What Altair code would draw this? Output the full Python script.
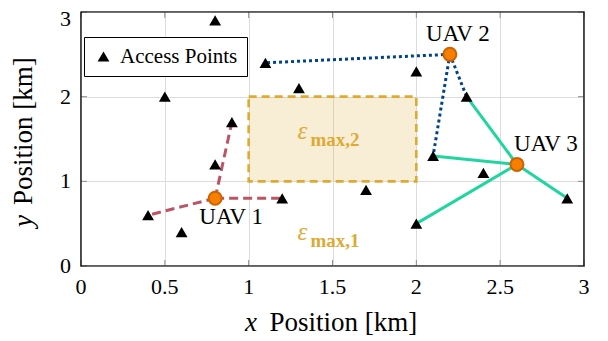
import altair as alt
import pandas as pd

# ---------------- data ----------------
ap_x = [0.8, 1.1, 0.5, 1.3, 0.9, 0.8, 0.4, 0.6, 1.2, 1.7, 2.0, 2.3, 2.1, 2.4, 2.0, 2.9]
ap_y = [2.9, 2.4, 2.0, 2.1, 1.7, 1.2, 0.6, 0.4, 0.8, 0.9, 2.3, 2.0, 1.3, 1.1, 0.5, 0.8]

uav_names = ["UAV 1", "UAV 2", "UAV 3"]
uav_x = [0.8, 2.2, 2.6]
uav_y = [0.8, 2.5, 1.2]

# indices (into ap_x / ap_y) of access points linked to each UAV
links_uav1 = [6, 4, 8]
links_uav2 = [1, 12, 11]
links_uav3 = [11, 12, 14, 15]

region_x = [1.0, 2.0]
region_y = [1.0, 2.0]

eps_names = ["max,2", "max,1"]
eps_x = [1.5, 1.5]
eps_y = [1.5, 0.31]

x_ticks = [0, 0.5, 1, 1.5, 2, 2.5, 3]
y_ticks = [0, 1, 2, 3]

# ---------------- tables ----------------
ap_df = pd.DataFrame({"x": ap_x, "y": ap_y, "kind": ["Access Points"] * len(ap_x)})
uav_df = pd.DataFrame({"name": uav_names, "x": uav_x, "y": uav_y})


def links_df(u, idx):
    return pd.DataFrame({
        "x": [uav_x[u]] * len(idx), "y": [uav_y[u]] * len(idx),
        "x2": [ap_x[i] for i in idx], "y2": [ap_y[i] for i in idx],
    })


region_df = pd.DataFrame({"x": [region_x[0]], "x2": [region_x[1]],
                          "y": [region_y[0]], "y2": [region_y[1]]})
eps_df = pd.DataFrame({"name": eps_names, "x": eps_x, "y": eps_y})
xt_df = pd.DataFrame({"x": x_ticks})
yt_df = pd.DataFrame({"y": y_ticks})

W, H = 503, 254
FONT = "Liberation Serif"
GOLD = "#DDAA33"

xs = alt.Scale(domain=[0, 3], nice=False, zero=False)
ys = alt.Scale(domain=[0, 3], nice=False, zero=False)

x_axis = alt.Axis(values=x_ticks, title=None, labels=False, ticks=False, tickSize=0, domain=False,
                  grid=True, gridColor="#dcdcdc", gridWidth=1)
y_axis = alt.Axis(values=y_ticks, title=None, labels=False, ticks=False, tickSize=0, domain=False,
                  grid=True, gridColor="#dcdcdc", gridWidth=1)


def X(f="x"):
    return alt.X(f, type="quantitative", scale=xs, axis=x_axis)


def Y(f="y"):
    return alt.Y(f, type="quantitative", scale=ys, axis=y_axis)


# region rectangle
region = alt.Chart(region_df).mark_rect(
    fill=GOLD, fillOpacity=0.2, stroke=GOLD, strokeWidth=2.6, strokeDash=[8, 5]
).encode(x=X(), x2="x2", y=Y(), y2="y2")

# inward ticks
tick_style = dict(color="#8c8c8c", strokeWidth=1)
tb = alt.Chart(xt_df).mark_rule(**tick_style).encode(x=X(), y=alt.value(H), y2=alt.value(H - 6))
tt = alt.Chart(xt_df).mark_rule(**tick_style).encode(x=X(), y=alt.value(0), y2=alt.value(6))
tl = alt.Chart(yt_df).mark_rule(**tick_style).encode(y=Y(), x=alt.value(0), x2=alt.value(6))
tr = alt.Chart(yt_df).mark_rule(**tick_style).encode(y=Y(), x=alt.value(W), x2=alt.value(W - 6))

# tick labels (serif, through the scales)
xlab = alt.Chart(xt_df).mark_text(
    font=FONT, fontSize=22, color="black", align="center", baseline="alphabetic"
).encode(x=X(), y=alt.value(H + 28), text=alt.Text("x:Q", format="~g"))
ylab = alt.Chart(yt_df).transform_filter(alt.datum.y < 3).mark_text(
    font=FONT, fontSize=22, color="black", align="right", baseline="middle"
).encode(y=Y(), x=alt.value(-10), text=alt.Text("y:Q", format="~g"))
ylab_top = alt.Chart(yt_df).transform_filter(alt.datum.y >= 3).mark_text(
    font=FONT, fontSize=22, color="black", align="right", baseline="middle", dy=7
).encode(y=Y(), x=alt.value(-10), text=alt.Text("y:Q", format="~g"))

# frame
frame = alt.Chart(pd.DataFrame({"f": [0]})).mark_rect(
    fillOpacity=0, stroke="black", strokeWidth=1.2
).encode(x=alt.value(0), x2=alt.value(W), y=alt.value(0), y2=alt.value(H))

# links
l1 = alt.Chart(links_df(0, links_uav1)).mark_rule(
    color="#BB5566", strokeWidth=3, strokeDash=[9, 5]
).encode(x=X(), y=Y(), x2="x2", y2="y2")
l2 = alt.Chart(links_df(1, links_uav2)).mark_rule(
    color="#004488", strokeWidth=3, strokeDash=[3, 3]
).encode(x=X(), y=Y(), x2="x2", y2="y2")
l3 = alt.Chart(links_df(2, links_uav3)).mark_rule(
    color="#20D5A0", strokeWidth=3
).encode(x=X(), y=Y(), x2="x2", y2="y2")

# access points with legend
aps = alt.Chart(ap_df).mark_point(filled=True, color="black", size=140, opacity=1).encode(
    x=X(), y=Y(),
    shape=alt.Shape("kind:N", scale=alt.Scale(range=["triangle-up"]), legend=alt.Legend(
        title=None, orient="none", legendX=3, legendY=25, padding=9,
        strokeColor="black", fillColor="white", cornerRadius=0,
        labelFont=FONT, labelFontSize=21, labelColor="black", labelOffset=6,
        symbolFillColor="black", symbolStrokeColor="black", symbolSize=140, symbolStrokeWidth=0,
    )),
)

# UAVs
uavs = alt.Chart(uav_df).mark_point(
    filled=True, fill="#F77F00", stroke="#CC6200", strokeWidth=2, size=170, opacity=1, shape="circle"
).encode(x=X(), y=Y())

uav_offsets = {"UAV 1": (16, 26), "UAV 2": (8, -13), "UAV 3": (29, -13)}
uav_labels = []
for nm in uav_names:
    dx, dy = uav_offsets[nm]
    uav_labels.append(
        alt.Chart(uav_df).transform_filter(alt.datum.name == nm).mark_text(
            font=FONT, fontSize=23, color="black", align="center", baseline="alphabetic", dx=dx, dy=dy
        ).encode(x=X(), y=Y(), text="name:N")
    )

# epsilon labels
eps_sym = alt.Chart(eps_df).mark_text(
    font=FONT, fontSize=25, fontStyle="italic", color=GOLD, align="left", baseline="alphabetic", dx=-35, dy=0
).encode(x=X(), y=Y(), text=alt.value("ε"))
eps_sub = alt.Chart(eps_df).mark_text(
    font=FONT, fontSize=19, fontWeight="bold", color=GOLD, align="left", baseline="alphabetic", dx=-22, dy=7
).encode(x=X(), y=Y(), text="name:N")

# axis titles (italic variable + upright words)
xt1 = alt.Chart(pd.DataFrame({"t": ["x"]})).mark_text(
    font=FONT, fontSize=27, fontStyle="italic", color="black", align="left", baseline="alphabetic"
).encode(x=alt.value(164), y=alt.value(319), text="t:N")
xt2 = alt.Chart(pd.DataFrame({"t": ["Position [km]"]})).mark_text(
    font=FONT, fontSize=27, color="black", align="left", baseline="alphabetic"
).encode(x=alt.value(188.5), y=alt.value(319), text="t:N")
yt1 = alt.Chart(pd.DataFrame({"t": ["y"]})).mark_text(
    font=FONT, fontSize=27, fontStyle="italic", color="black", align="left", baseline="alphabetic", angle=270
).encode(x=alt.value(-49), y=alt.value(215), text="t:N")
yt2 = alt.Chart(pd.DataFrame({"t": ["Position [km]"]})).mark_text(
    font=FONT, fontSize=27, color="black", align="left", baseline="alphabetic", angle=270
).encode(x=alt.value(-49), y=alt.value(193), text="t:N")

chart = alt.layer(
    region, tb, tt, tl, tr, xlab, ylab, ylab_top, frame, l1, l2, l3, aps, uavs, *uav_labels,
    eps_sym, eps_sub, xt1, xt2, yt1, yt2
).properties(
    width=W, height=H,
    background="white",
    autosize=alt.AutoSizeParams(type="none"),
    padding={"left": 73, "top": 4, "right": 12, "bottom": 73},
).configure_view(stroke="black", strokeWidth=1.2)

chart.save("out.html", embed_options={"renderer": "svg", "actions": False})
